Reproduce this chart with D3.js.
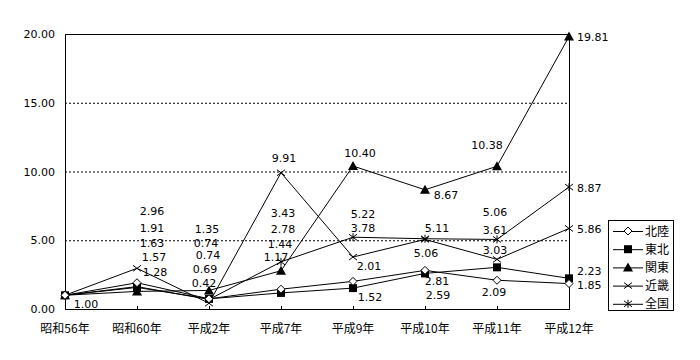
<!DOCTYPE html>
<html><head><meta charset="utf-8">
<script src="https://cdn.jsdelivr.net/npm/d3@7"></script>
<style>
html,body{margin:0;padding:0;background:#fff;}
text{font-family:"Noto Sans CJK JP","DejaVu Sans",sans-serif;font-size:12px;fill:#000;}
text.num{font-family:"DejaVu Sans",sans-serif;font-size:11px;}
</style></head>
<body>
<svg id="c" width="700" height="360"></svg>
<script>
const categories = ["昭和56年","昭和60年","平成2年","平成7年","平成9年","平成10年","平成11年","平成12年"];
const seriesNames = ["北陸","東北","関東","近畿","全国"];
const hokuriku = [1.00, 1.91, 0.74, 1.44, 2.01, 2.81, 2.09, 1.85];
const tohoku   = [1.00, 1.57, 0.74, 1.17, 1.52, 2.59, 3.03, 2.23];
const kanto    = [1.00, 1.28, 1.35, 2.78, 10.40, 8.67, 10.38, 19.81];
const kinki    = [1.00, 2.96, 0.42, 9.91, 3.78, 5.06, 3.61, 5.86];
const zenkoku  = [1.00, 1.63, 0.69, 3.43, 5.22, 5.11, 5.06, 8.87];
const yTicks = [0, 5, 10, 15, 20];

// label layout (offsets from the point, px): [dx, dy] or null; "r" = right of point
const labelLayout = {
  "北陸": [[21,9],[15,-55],[-3,-56],[-1,-45],[16,-15],[12,11],[-3,12],["r",1]],
  "東北": [null,[17,-30],[-1,-44],[-5,-36],[17,9],[13,22],[-2,-17],["r",-7]],
  "関東": [null,[18,-19],[-2,-61],[2,-42],[7,-13],[21,5],[-10,-21],["r",0]],
  "近畿": [null,[15,-57],[-5,-20],[3,-15],[10,-29],[1,14],[-2,-29],["r",1]],
  "全国": [null,[15,-44],[-4,-31],[2,-49],[10,-23],[12,-11],[-2,-27],["r",1]]
};

const seriesData = [hokuriku, tohoku, kanto, kinki, zenkoku];
const svg = d3.select("#c");
const L = 65, R = 569, T = 34, B = 309;

const x = d3.scalePoint().domain(categories).range([L, R]);
const y = d3.scaleLinear().domain([0, 20]).range([B, T]);

// gridlines
svg.append("g").selectAll("line").data(yTicks.filter(d => d > 0 && d < 20)).join("line")
  .attr("x1", L).attr("x2", R).attr("y1", d => y(d) + 0.5).attr("y2", d => y(d) + 0.5)
  .attr("stroke", "#000").attr("stroke-dasharray", "2,2").attr("stroke-width", 1);

// frame
svg.append("rect").attr("x", L + 0.5).attr("y", T + 0.5).attr("width", R - L).attr("height", B - T)
  .attr("fill", "none").attr("stroke", "#000");

// y axis labels
svg.append("g").selectAll("text").data(yTicks).join("text").attr("class", "num")
  .attr("x", 55).attr("y", d => y(d) + 4).attr("text-anchor", "end")
  .text(d => d3.format(".2f")(d));

// x axis ticks & labels
const xg = svg.append("g");
xg.selectAll("line").data(categories.slice(1, -1)).join("line")
  .attr("x1", d => x(d) + 0.5).attr("x2", d => x(d) + 0.5).attr("y1", B).attr("y2", B - 3)
  .attr("stroke", "#000");
xg.selectAll("text").data(categories).join("text")
  .attr("x", d => x(d)).attr("y", 333).attr("text-anchor", "middle").text(d => d);

// markers
function marker(g, i, cx, cy) {
  if (i === 0) { // open diamond
    g.append("path").attr("d", `M${cx},${cy-4}L${cx+4},${cy}L${cx},${cy+4}L${cx-4},${cy}Z`)
      .attr("fill", "#fff").attr("stroke", "#000");
  } else if (i === 1) { // filled square
    g.append("rect").attr("x", cx - 4).attr("y", cy - 4).attr("width", 8).attr("height", 8).attr("fill", "#000");
  } else if (i === 2) { // filled triangle
    g.append("path").attr("d", `M${cx},${cy-5}L${cx+5},${cy+4}L${cx-5},${cy+4}Z`).attr("fill", "#000");
  } else if (i === 3) { // x
    g.append("path").attr("d", `M${cx-4},${cy-3}L${cx+4},${cy+3}M${cx-4},${cy+3}L${cx+4},${cy-3}`)
      .attr("stroke", "#000").attr("fill", "none");
  } else { // asterisk
    g.append("path").attr("d", `M${cx-4},${cy-3}L${cx+4},${cy+3}M${cx-4},${cy+3}L${cx+4},${cy-3}M${cx},${cy-4}L${cx},${cy+4}`)
      .attr("stroke", "#000").attr("fill", "none");
  }
}

const line = d3.line().x((d, i) => x(categories[i])).y(d => y(d));
seriesData.forEach((vals) => {
  svg.append("path").attr("d", line(vals)).attr("fill", "none").attr("stroke", "#000").attr("stroke-width", 1);
});
for (let si = seriesData.length - 1; si >= 0; si--) {
  const vals = seriesData[si];
  const g = svg.append("g");
  vals.forEach((v, i) => marker(g, si, x(categories[i]), y(v)));
}

// data labels
seriesData.forEach((vals, si) => {
  const lay = labelLayout[seriesNames[si]];
  vals.forEach((v, i) => {
    const o = lay[i];
    if (!o) return;
    const px = x(categories[i]), py = y(v);
    const t = svg.append("text").attr("class", "num").text(d3.format(".2f")(v));
    if (o[0] === "r") {
      t.attr("x", px + 8).attr("y", py + o[1] + 4).attr("text-anchor", "start");
    } else {
      t.attr("x", px + o[0]).attr("y", py + o[1] + 4).attr("text-anchor", "middle");
    }
  });
});

// legend
const lg = svg.append("g");
lg.append("rect").attr("x", 608.5).attr("y", 220.5).attr("width", 65).attr("height", 90)
  .attr("fill", "#fff").attr("stroke", "#000");
seriesNames.forEach((n, i) => {
  const cy = 231 + i * 18.2;
  lg.append("line").attr("x1", 613).attr("x2", 643).attr("y1", cy + 0.5).attr("y2", cy + 0.5).attr("stroke", "#000");
  marker(lg, i, 628, cy);
  lg.append("text").attr("x", 645).attr("y", cy + 4.5).text(n);
});
</script>
</body></html>
